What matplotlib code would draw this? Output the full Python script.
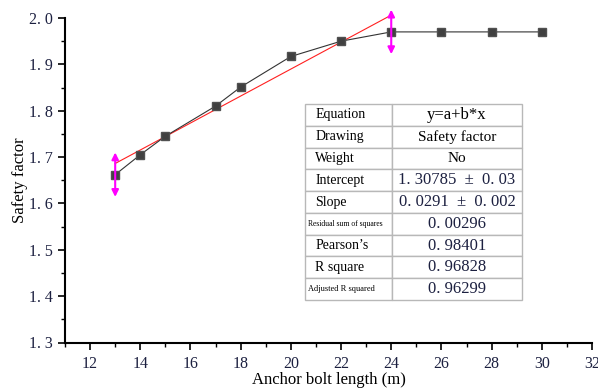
import numpy as np
import matplotlib.pyplot as plt
from matplotlib.ticker import MultipleLocator, AutoMinorLocator, FuncFormatter

# data
length = [13, 14, 15, 17, 18, 20, 22, 24, 26, 28, 30]
safety = [1.662, 1.705, 1.745, 1.810, 1.851, 1.917, 1.950, 1.970, 1.970, 1.970, 1.970]

# linear fit parameters (from the table)
intercept = 1.30785
slope = 0.0291
fit_range = [13, 24]

row_names = ["Equation", "Drawing", "Weight", "Intercept", "Slope",
             "Residual sum of squares", "Pearson\u2019s", "R square", "Adjusted R squared"]
row_values = ["y=a+b*x", "Safety factor", "No", "1. 30785  \u00b1  0. 03",
              "0. 0291  \u00b1  0. 002", "0. 00296", "0. 98401", "0. 96828", "0. 96299"]

plt.rcParams['font.family'] = ['Liberation Serif', 'DejaVu Serif']

fig = plt.figure(figsize=(5.98, 3.92), dpi=100, facecolor='white')
ax = fig.add_axes([65/598, 1-342.5/392, 527/598, 324.5/392])

ax.plot(length, safety, color='#333333', lw=0.8, marker='s', ms=6,
        mfc='#404040', mec='#505050', zorder=3, clip_on=False)

fx = np.array(fit_range, dtype=float)
ax.plot(fx, intercept + slope*fx, color='#ff2020', lw=0.8, zorder=2, clip_on=False)

# range markers at both ends of the fit
for xv, yv in [(13, 1.662), (24, 1.970)]:
    ax.annotate('', xy=(xv, yv + 0.048), xytext=(xv, yv - 0.048),
                arrowprops=dict(arrowstyle='<|-|>', color='#ff00ff', lw=1.5,
                                mutation_scale=10, shrinkA=0, shrinkB=0),
                annotation_clip=False, zorder=4)

ax.set_xlim(11, 32)
ax.set_ylim(1.3, 2.0)
ax.xaxis.set_major_locator(MultipleLocator(2))
ax.xaxis.set_minor_locator(AutoMinorLocator(2))
ax.yaxis.set_major_locator(MultipleLocator(0.1))
ax.yaxis.set_minor_locator(AutoMinorLocator(2))
ax.yaxis.set_major_formatter(FuncFormatter(lambda v, p: f"{v:.1f}".replace('.', '. ')))

for s in ['top', 'right']:
    ax.spines[s].set_visible(False)
for s in ['left', 'bottom']:
    ax.spines[s].set_linewidth(1.5)
ax.tick_params(which='major', direction='out', length=5, width=1.2, labelsize=11.5,
               labelcolor='#1c2040')
ax.tick_params(which='minor', direction='out', length=3, width=1.0)
ax.tick_params(axis='x', pad=5)

ax.set_xlabel("Anchor bolt length (m)", fontsize=12, labelpad=0)
ax.set_ylabel("Safety factor", fontsize=12, labelpad=1)

# fit result table
x0 = (305-65)/527
y0 = (342.5-300)/324.5
w = 217/527
h = 196/324.5
tab = ax.table(cellText=[[n, v] for n, v in zip(row_names, row_values)],
               colWidths=[0.40, 0.60], bbox=[x0, y0, w, h], zorder=5)
tab.auto_set_font_size(False)
name_sizes = [10, 10, 10, 10, 10, 5.5, 10, 10, 6]
value_sizes = [12, 11, 11, 12, 12, 12, 12, 12, 12]
for (r, c), cell in tab.get_celld().items():
    cell.set_edgecolor('#b8b8b8')
    cell.set_linewidth(1.0)
    cell.set_facecolor('white')
    if c == 0:
        cell.get_text().set_fontsize(name_sizes[r])
        cell.get_text().set_ha('left')
        cell.PAD = 0.12 if name_sizes[r] > 7 else 0.04
    else:
        cell.get_text().set_fontsize(value_sizes[r])
        cell.get_text().set_ha('center')
        if r >= 3:
            cell.get_text().set_color('#1c2040')

fig.savefig("out.png", dpi=100)
